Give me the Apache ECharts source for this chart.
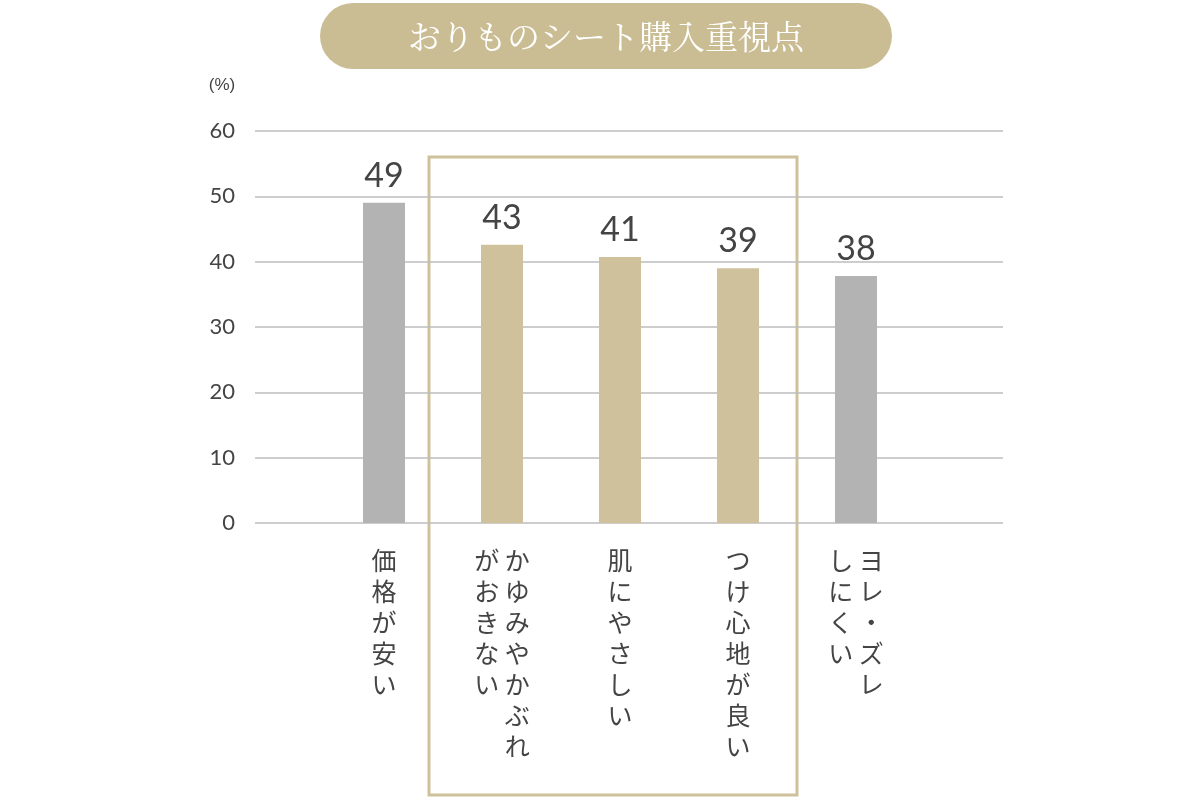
<!DOCTYPE html>
<html lang="ja">
  <head>
    <meta charset="UTF-8" />
    <title>おりものシート購入重視点</title>
    <style>
      * { padding: 0; margin: 0; }
    </style>
    <script src="https://cdn.jsdelivr.net/npm/echarts@6/dist/echarts.min.js"></script>
  </head>
  <body>
    <div id="main" style="width: 1200px; height: 800px;"></div>
    <script type="text/javascript">
      // data (bar heights, labels are rounded)
      var categories = [
        ['価格が安い'],
        ['かゆみやかぶれ', 'がおきない'],
        ['肌にやさしい'],
        ['つけ心地が良い'],
        ['ヨレ・ズレ', 'しにくい']
      ];
      var values = [49, 42.6, 40.7, 39, 37.8];
      var highlighted = [false, true, true, true, false];
      var yTicks = [0, 10, 20, 30, 40, 50, 60];

      var GOLD = '#cfc19b';
      var GRAY = '#b4b3b3';
      var FONT = '"Noto Sans CJK JP", sans-serif';

      // vertical text: one char per column per line, first column on the right
      function verticalLabel(cols) {
        var n = Math.max.apply(null, cols.map(c => c.length));
        var lines = [];
        for (var i = 0; i < n; i++) {
          var row = [];
          for (var j = cols.length - 1; j >= 0; j--) {
            row.push(cols[j][i] || '\u3000');
          }
          lines.push(row.join(' '));
        }
        return lines.join('\n');
      }

      var myChart = echarts.init(document.getElementById('main'));

      var option = {
        animation: false,
        textStyle: { fontFamily: FONT },
        grid: [
          { left: 255, right: 197, top: 131, bottom: 277 },
          { left: 325, right: 285, top: 131, bottom: 277 }
        ],
        xAxis: [
          { gridIndex: 0, type: 'value', show: false, min: 0, max: 1 },
          {
            gridIndex: 1,
            type: 'category',
            data: categories.map(verticalLabel),
            axisLine: { show: false },
            axisTick: { show: false },
            axisLabel: {
              color: '#444',
              fontSize: 25,
              lineHeight: 31,
              margin: 22,
              verticalAlign: 'top',
              fontFamily: FONT
            }
          }
        ],
        yAxis: [
          {
            gridIndex: 0,
            type: 'value',
            min: yTicks[0],
            max: yTicks[yTicks.length - 1],
            interval: 10,
            axisLine: { show: false },
            axisTick: { show: false },
            axisLabel: {
              color: '#444',
              fontSize: 22,
              margin: 20,
              fontFamily: 'Lato, sans-serif'
            },
            splitLine: { lineStyle: { color: '#bdbdbd', width: 1.5 } }
          },
          {
            gridIndex: 1,
            type: 'value',
            min: 0,
            max: 60,
            show: false
          }
        ],
        series: [
          {
            type: 'bar',
            xAxisIndex: 1,
            yAxisIndex: 1,
            barWidth: 42,
            data: values.map((v, i) => ({
              value: v,
              itemStyle: { color: highlighted[i] ? GOLD : GRAY }
            })),
            label: {
              show: true,
              position: 'top',
              distance: 10,
              color: '#444',
              fontSize: 34,
              fontFamily: 'Lato, sans-serif',
              formatter: p => Math.round(p.value)
            }
          }
        ],
        graphic: [
          {
            type: 'rect',
            shape: { x: 320, y: 3, width: 572, height: 66, r: 33 },
            style: { fill: '#cbbd93' }
          },
          {
            type: 'text',
            x: 606,
            y: 36,
            style: {
              text: 'おりものシート購入重視点',
              fill: '#fff',
              fontSize: 33,
              fontFamily: '"Noto Serif CJK JP", ' + FONT,
              align: 'center',
              verticalAlign: 'middle'
            }
          },
          {
            type: 'text',
            x: 222,
            y: 85,
            style: {
              text: '(%)',
              fill: '#444',
              fontSize: 17,
              align: 'center',
              verticalAlign: 'middle'
            }
          },
          {
            type: 'rect',
            shape: { x: 429, y: 157, width: 368, height: 638 },
            style: { fill: 'none', stroke: GOLD, lineWidth: 3 }
          }
        ]
      };

      myChart.setOption(option);
    </script>
  </body>
</html>
